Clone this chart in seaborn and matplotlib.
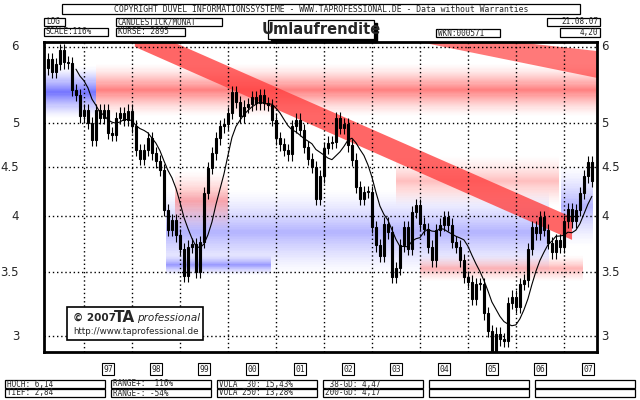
import numpy as np
import matplotlib
matplotlib.use('Agg')
import matplotlib.pyplot as plt
import matplotlib.patches as mpatches
import pandas as pd
import seaborn as sns

# monthly closes, Apr 1996 .. Aug 2007
closes = [5.83, 5.65, 5.76, 5.95, 5.78, 5.77, 5.41, 5.35, 5.08, 5.16, 5.00, 4.80,
          5.16, 5.06, 5.16, 4.88, 4.86, 5.06, 5.12, 5.04, 5.15, 4.96, 4.69, 4.59,
          4.69, 4.82, 4.65, 4.56, 4.47, 4.06, 3.87, 3.96, 3.82, 3.70, 3.47, 3.72,
          3.74, 3.50, 3.76, 4.23, 4.49, 4.65, 4.82, 4.96, 4.99, 5.12, 5.38, 5.26,
          5.08, 5.20, 5.23, 5.32, 5.24, 5.35, 5.24, 5.22, 5.04, 4.82, 4.75, 4.69,
          4.64, 4.96, 5.04, 4.92, 4.72, 4.59, 4.50, 4.17, 4.40, 4.71, 4.77, 4.78,
          5.06, 4.94, 4.99, 4.74, 4.58, 4.29, 4.17, 4.24, 4.24, 3.90, 3.73, 3.64,
          3.93, 3.85, 3.46, 3.53, 3.73, 3.90, 3.70, 4.04, 4.11, 3.93, 3.88, 3.72,
          3.60, 3.87, 3.92, 3.99, 3.92, 3.76, 3.72, 3.60, 3.46, 3.42, 3.28, 3.40,
          3.40, 3.17, 3.04, 2.89, 3.02, 2.98, 2.97, 3.25, 3.30, 3.22, 3.40, 3.43,
          3.70, 3.90, 3.84, 3.99, 3.87, 3.75, 3.67, 3.78, 3.72, 3.95, 4.07, 3.95,
          4.06, 4.23, 4.40, 4.55, 4.35]
first_open = 5.70
start_year = 1996.25
y_ticks = [3, 3.5, 4, 4.5, 5, 6]
y_labels = ["3", "3.5", "4", "4.5", "5", "6"]
years = list(range(1997, 2008))
year_labels = ["97", "98", "99", "00", "01", "02", "03", "04", "05", "06", "07"]

header = ["COPYRIGHT DÜVEL INFORMATIONSSYSTEME - WWW.TAPROFESSIONAL.DE - Data without Warranties",
          "LOG", "SCALE:116%", "CANDLESTICK/MONAT", "KURSE: 2895", "WKN:000571", "21.08.07", "4,20"]
title = "Umlaufrendite"
footer = [["HOCH: 6,14", "TIEF: 2,84"], ["RANGE+:  116%", "RANGE-: -54%"],
          ["VOLA  30: 15,43%", "VOLA 250: 13,28%"], [" 38-GD: 4,47", "200-GD: 4,17"],
          ["", ""], ["", ""]]

df = pd.DataFrame({"close": closes})
df["open"] = [first_open] + closes[:-1]
df["t"] = start_year + np.arange(len(df)) / 12
df["hi"] = df[["open", "close"]].max(axis=1) * 1.015
df["lo"] = df[["open", "close"]].min(axis=1) * 0.985
df["ma"] = df["close"].rolling(8).mean()

sns.set_style("white")
plt.rcParams['font.family'] = ['DejaVu Sans']
mono = 'DejaVu Sans Mono'

fig = plt.figure(figsize=(6.4, 4), dpi=100)
ax = fig.add_axes([44 / 640, 48 / 400, 553 / 640, 310 / 400])
ax.set_yscale('log')
ax.set_xlim(1996.167, 2007.69)
ax.set_ylim(2.89, 6.07)

PX = 417.0  # pixels per ln unit


def band(xa, xb, center, hw, color, amax=0.6, n=24):
    for k in range(n):
        a = amax * (1 - k / n) ** 1.4
        for s in (1, -1):
            lo = center * np.exp(s * hw * k / n / PX)
            hi = center * np.exp(s * hw * (k + 1) / n / PX)
            ax.fill_between([xa, xb], min(lo, hi), max(lo, hi), color=color, alpha=a, lw=0)


red, blue = '#ff3030', '#3030ff'
band(1996.167, 1997.25, 5.38, 26, blue, amax=0.65)
band(1997.25, 2007.69, 5.41, 26, red, amax=0.6)
band(1998.7, 2006.7, 3.85, 42, blue, amax=0.35)
band(1998.7, 2000.9, 3.56, 10, blue, amax=0.45)
band(1998.9, 2000.0, 4.15, 30, red, amax=0.4)
band(2003.5, 2006.9, 4.35, 25, red, amax=0.3)
band(2004.0, 2007.4, 3.53, 13, red, amax=0.35)
band(2006.95, 2007.6, 4.10, 40, blue, amax=0.35)

# channels
ax.add_patch(mpatches.Polygon([(1998.06, 6.32), (2007.17, 3.99), (2007.17, 3.78), (1998.06, 6.00)],
                              closed=True, color='#ff4040', alpha=0.8, lw=0))
ax.add_patch(mpatches.Polygon([(2004.0, 6.07), (2006.0, 6.07), (2007.69, 5.94), (2007.69, 5.57)],
                              closed=True, color='#ff4040', alpha=0.7, lw=0))

# grid
for y in y_ticks:
    ax.axhline(y, color='black', lw=1, ls=(0, (1, 2)))
for yr in years:
    ax.axvline(yr, color='black', lw=1, ls=(0, (1, 2)))

# candles
w = 0.05
ax.vlines(df["t"], df["lo"], df["hi"], color='black', lw=0.8)
up = df["close"] >= df["open"]
for sel, fc in ((up, 'white'), (~up, 'black')):
    d = df[sel]
    bot = d[["open", "close"]].min(axis=1)
    top = d[["open", "close"]].max(axis=1)
    ax.bar(d["t"], (top - bot).clip(lower=0.01), bottom=bot, width=w, color=fc, edgecolor='black', lw=0.8)

sns.lineplot(data=df, x="t", y="ma", ax=ax, color='black', lw=0.8)

ax.set_xticks([])
ax.set_yticks([])
ax.yaxis.set_minor_locator(matplotlib.ticker.NullLocator())
ax.set_xlabel("")
ax.set_ylabel("")
for s in ax.spines.values():
    s.set_linewidth(2)
    s.set_color('black')

for y, lab in zip(y_ticks, y_labels):
    ax.text(-0.045, y, lab, transform=ax.get_yaxis_transform(), ha='right', va='center', fontsize=8.5)
    ax.text(1.008, y, lab, transform=ax.get_yaxis_transform(), ha='left', va='center', fontsize=8.5)

for yr, lab in zip(years, year_labels):
    ax.text(yr + 0.5, -0.055, lab, transform=ax.get_xaxis_transform(), ha='center', va='center',
            fontsize=5.8, family=mono, bbox=dict(boxstyle='square,pad=0.15', fc='white', ec='black', lw=0.8))


def box(xa, ya, xb, yb, text, size=5.5, ha='left', shadow=False, family=mono, weight='normal'):
    if shadow:
        fig.add_artist(mpatches.Rectangle((xa / 640 + 3 / 640, 1 - yb / 400 - 3 / 400), (xb - xa) / 640,
                                          (yb - ya) / 400, transform=fig.transFigure, fc='black', ec='black'))
    fig.add_artist(mpatches.Rectangle((xa / 640, 1 - yb / 400), (xb - xa) / 640, (yb - ya) / 400,
                                      transform=fig.transFigure, fc='white', ec='black', lw=0.9))
    tx = xa + 2 if ha == 'left' else (xb - 2 if ha == 'right' else (xa + xb) / 2)
    fig.text(tx / 640, 1 - (ya + yb) / 2 / 400, text, ha=ha, va='center', fontsize=size,
             family=family, weight=weight)


box(62, 4, 580, 14, header[0], size=5.9, ha='center')
box(44, 18, 65, 26, header[1])
box(44, 28, 108, 36, header[2])
box(116, 18, 222, 26, header[3])
box(116, 28, 185, 36, header[4])
box(436, 29, 500, 37, header[5])
box(547, 18, 600, 26, header[6], ha='right')
box(560, 28, 600, 37, header[7], ha='right')
box(268, 20, 374, 39, title, size=10.5, ha='center', shadow=True, family='DejaVu Sans', weight='bold')

xs = [5, 111, 217, 323, 429, 535]
for xa, (l1, l2) in zip(xs, footer):
    box(xa, 380, xa + 100, 388, l1)
    box(xa, 389, xa + 100, 397, l2)

# logo
fig.add_artist(mpatches.Rectangle((67 / 640, 1 - 340 / 400), 136 / 640, 33 / 400,
                                  transform=fig.transFigure, fc='white', ec='black', lw=1.2))
fig.text(73 / 640, 1 - 318 / 400, "© 2007", fontsize=7.5, weight='bold', va='center')
fig.text(114 / 640, 1 - 317 / 400, "TA", fontsize=11, weight='bold', va='center')
fig.text(137 / 640, 1 - 318 / 400, "professional", fontsize=7.5, style='italic', va='center')
fig.text(73 / 640, 1 - 332 / 400, "http://www.taprofessional.de", fontsize=6.3, va='center')

fig.savefig("out.png", dpi=100)
